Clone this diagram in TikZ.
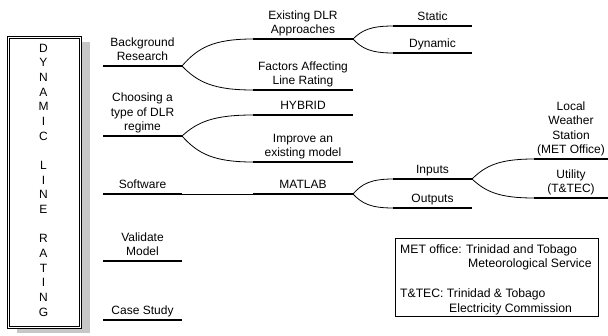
\documentclass[tikz,border=0pt]{standalone}
\usepackage{fontspec}
\setmainfont{Liberation Sans}
\usetikzlibrary{calc,shadows}
\begin{document}
\begin{tikzpicture}[x=1pt,y=-1pt,
  lbl/.style={align=center,anchor=south,inner sep=0pt,text depth=0pt,font=\fontsize{12}{14.3}\selectfont},
  leg/.style={inner sep=0pt,font=\fontsize{12.2}{14.3}\selectfont},
  bar/.style={line width=1.8pt},
  conn/.style={line width=0.8pt},
  titlebox/.style={draw,double,double distance=1.2pt,line width=0.7pt,minimum width=72.4pt,minimum height=290.4pt,inner sep=0pt,fill=white,
    drop shadow={shadow xshift=9pt,shadow yshift=-5pt,fill=black!22,opacity=1}},
  legbox/.style={draw,line width=0.8pt,minimum width=203pt,minimum height=78pt,inner sep=0pt}
]
\useasboundingbox (0,0) rectangle (608,335);
\newcommand\brc[2]{\draw[conn] let \p1=(#1), \p2=(#2) in (#1) .. controls ({\x1+0.22*(\x2-\x1)},{\y1+0.67*(\y2-\y1)}) and ({\x1+0.44*(\x2-\x1)},{\y2}) .. (#2);}

% title box
\node[titlebox] (box) at (44.5,182.5) {};
\node[inner sep=0pt,align=center,font=\fontsize{12}{14.67}\selectfont] (title) at (43.5,180)
 {D\\Y\\N\\A\\M\\I\\C\\[14.67pt]L\\I\\N\\E\\[14.67pt]R\\A\\T\\I\\N\\G};

% left column
\coordinate (bgL) at (103,66);  \coordinate (bgR) at (182,66);
\coordinate (chL) at (103,136); \coordinate (chR) at (182,136);
\coordinate (swL) at (103,194); \coordinate (swR) at (182,194);
\coordinate (vaL) at (103,261); \coordinate (vaR) at (182,261);
\coordinate (csL) at (103,320); \coordinate (csR) at (182,320);
% middle column
\coordinate (exL) at (253,39);  \coordinate (exR) at (353,39);
\coordinate (faL) at (253,90);  \coordinate (faR) at (353,90);
\coordinate (hyL) at (253,115); \coordinate (hyR) at (353,115);
\coordinate (imL) at (253,162); \coordinate (imR) at (353,162);
\coordinate (maL) at (253,194); \coordinate (maR) at (353,194);
% third column
\coordinate (stL) at (393,26);  \coordinate (stR) at (472,26);
\coordinate (dyL) at (393,53);  \coordinate (dyR) at (472,53);
\coordinate (inL) at (393,179); \coordinate (inR) at (472,179);
\coordinate (ouL) at (393,208); \coordinate (ouR) at (472,208);
% fourth column
\coordinate (lwL) at (534,159); \coordinate (lwR) at (608,159);
\coordinate (utL) at (534,198); \coordinate (utR) at (608,198);

\foreach \n in {bg,ch,sw,va,cs,ex,fa,hy,im,ma,st,dy,in,ou,lw,ut}
  \draw[bar] (\n L) -- (\n R);

\node[lbl] (bg) at ($(bgL)!0.5!(bgR)+(0,-5.5)$) {Background\\Research};
\node[lbl] (ch) at ($(chL)!0.5!(chR)+(0,-5.5)$) {Choosing a\\type of DLR\\regime};
\node[lbl] (sw) at ($(swL)!0.5!(swR)+(0,-5.5)$) {Software};
\node[lbl] (va) at ($(vaL)!0.5!(vaR)+(0,-5.5)$) {Validate\\Model};
\node[lbl] (cs) at ($(csL)!0.5!(csR)+(0,-5.5)$) {Case Study};
\node[lbl] (ex) at ($(exL)!0.5!(exR)+(0,-5.5)$) {Existing DLR\\Approaches};
\node[lbl] (fa) at ($(faL)!0.5!(faR)+(0,-5.5)$) {Factors Affecting\\Line Rating};
\node[lbl] (hy) at ($(hyL)!0.5!(hyR)+(0,-5.5)$) {HYBRID};
\node[lbl] (im) at ($(imL)!0.5!(imR)+(0,-5.5)$) {Improve an\\existing model};
\node[lbl] (ma) at ($(maL)!0.5!(maR)+(0,-5.5)$) {MATLAB};
\node[lbl] (st) at ($(stL)!0.5!(stR)+(0,-5.5)$) {Static};
\node[lbl] (dy) at ($(dyL)!0.5!(dyR)+(0,-5.5)$) {Dynamic};
\node[lbl] (in) at ($(inL)!0.5!(inR)+(0,-5.5)$) {Inputs};
\node[lbl] (ou) at ($(ouL)!0.5!(ouR)+(0,-5.5)$) {Outputs};
\node[lbl] (lw) at ($(lwL)!0.5!(lwR)+(0,-5.5)$) {Local\\Weather\\Station\\(MET Office)};
\node[lbl] (ut) at ($(utL)!0.5!(utR)+(0,-5.5)$) {Utility\\(T\&TEC)};

% connectors
\brc{bgR}{exL} \brc{bgR}{faL}
\brc{chR}{hyL} \brc{chR}{imL}
\draw[conn] (swR) -- (maL);
\brc{exR}{stL} \brc{exR}{dyL}
\brc{maR}{inL} \brc{maR}{ouL}
\brc{inR}{lwL} \brc{inR}{utL}

% legend
\node[legbox] (legend) at (496.5,277) {};
\node[leg,anchor=base west] (l1) at (400,253) {MET office: Trinidad and Tobago};
\node[leg,anchor=base west] (l2) at (468,267) {Meteorological Service};
\node[leg,anchor=base west] (l3) at (400,297) {T\&TEC: Trinidad \& Tobago};
\node[leg,anchor=base west] (l4) at (449,312) {Electricity Commission};
\end{tikzpicture}
\end{document}
